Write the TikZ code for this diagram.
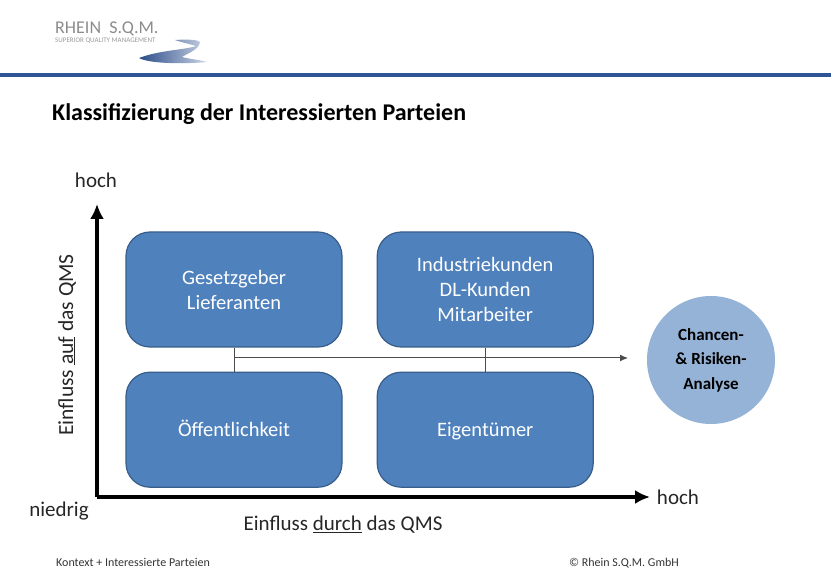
\documentclass[tikz,border=0pt]{standalone}
\usepackage{fontspec}
\setmainfont{Carlito}
\usetikzlibrary{positioning,arrows.meta}
\definecolor{boxblue}{HTML}{4F81BD}
\definecolor{boxline}{HTML}{385D8A}
\definecolor{circblue}{HTML}{95B3D7}
\definecolor{rulecol}{HTML}{2F5597}
\tikzset{
  feld/.style={draw=boxline,line width=1.2pt,fill=boxblue,rounded corners=24pt,minimum width=216pt,
    minimum height=115pt,text=white,align=center,font=\fontsize{20.5}{25}\selectfont,inner sep=0pt},
  achse/.style={line width=3.2pt,-{Latex[length=15pt,width=14pt]}},
  linie/.style={draw=black!70,line width=1pt},
  beschr/.style={font=\fontsize{21}{24}\selectfont,text=black!85,inner sep=0pt},
  klein/.style={font=\fontsize{12}{14}\selectfont,text=black!80,inner sep=0pt}
}
\begin{document}
\begin{tikzpicture}[x=1pt,y=-1pt,node distance=24pt and 34pt]
  \useasboundingbox (0,0) rectangle (831,585);
  % logo
  \node[font=\fontsize{18}{20}\selectfont,text=black!45,anchor=west,inner sep=0pt] (rhein) at (55,29) {RHEIN\ \ S.Q.M.};
  \node[font=\fontsize{7}{8}\selectfont,text=black!40,anchor=west,inner sep=0pt] (claim) at (55,41) {SUPERIOR QUALITY MANAGEMENT};
  \shade[left color=rulecol!90!black,right color=rulecol!25] (139,58) .. controls (160,50) and (185,50) .. (196,46)
    .. controls (190,44) and (180,42) .. (175,40) .. controls (190,39) and (198,40) .. (200,42)
    .. controls (199,50) and (188,53) .. (182,57) .. controls (190,59) and (200,60) .. (207,62)
    .. controls (185,64) and (150,64) .. (139,58) -- cycle;
  \fill[rulecol] (0,73) rectangle (831,77);
  \node[font=\bfseries\fontsize{24}{28}\selectfont,anchor=west,inner sep=0pt] (titel) at (52,114) {Klassifizierung der Interessierten Parteien};
  % boxes
  \node[feld] (gesetz) at (234,289.5) {Gesetzgeber\\Lieferanten};
  \node[feld,right=of gesetz] (industrie) {Industriekunden\\DL-Kunden\\Mitarbeiter};
  \node[feld,below=of gesetz,text height=19pt,text depth=5pt] (oeffentl) {Öffentlichkeit};
  \node[feld,below=of industrie,text height=19pt,text depth=5pt] (eigen) {Eigentümer};
  \node[circle,fill=circblue,minimum size=128pt,inner sep=0pt,align=center,
    font=\bfseries\fontsize{17}{24.5}\selectfont] (chancen) at (711,360) {Chancen-\\\&~Risiken-\\Analyse};
  % connectors
  \coordinate (ziel) at (628,358);
  \draw[linie] (gesetz.south) -- (oeffentl.north);
  \draw[linie] (industrie.south) -- (eigen.north);
  \draw[linie,-{Latex[length=8pt,width=7pt]}] (gesetz.south |- ziel) -- (ziel);
  % axes
  \coordinate (ursprung) at (97,497);
  \coordinate (yende) at (97,204);
  \coordinate (xende) at (650,497);
  \draw[achse] (ursprung) -- (yende);
  \draw[achse] (ursprung) -- (xende);
  \node[beschr] (hochy) at (96,180) {hoch};
  \node[beschr] (hochx) at (678,497) {hoch};
  \node[beschr] (niedrig) at (59,511) {niedrig};
  \node[beschr,rotate=90,font=\fontsize{21.5}{24}\selectfont] (auf) at (67,345) {Einfluss \underline{auf} das QMS};
  \node[beschr] (durch) at (343,525) {Einfluss \underline{durch} das QMS};
  % footer
  \node[klein,anchor=base west] (kontext) at (56,566) {Kontext + Interessierte Parteien};
  \node[klein,anchor=base west] (copy) at (569,566) {© Rhein S.Q.M. GmbH};
\end{tikzpicture}
\end{document}
